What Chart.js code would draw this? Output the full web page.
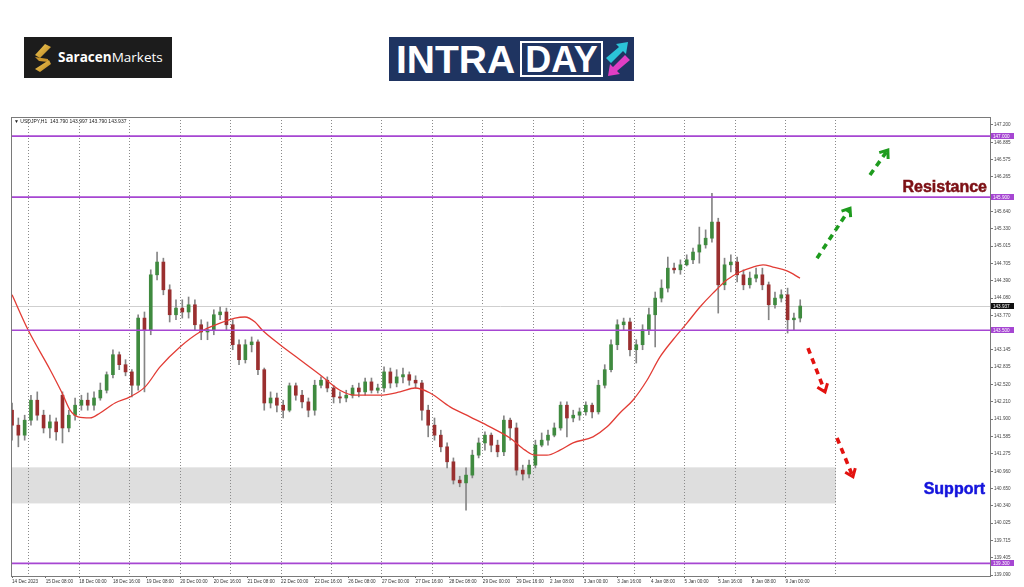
<!DOCTYPE html>
<html>
<head>
<meta charset="utf-8">
<title>USDJPY H1 - Intraday</title>
<script src="https://cdn.jsdelivr.net/npm/chart.js@4.4.0/dist/chart.umd.min.js"></script>
<style>
    html, body { margin: 0; padding: 0; background: #fff; }
    #wrap { position: relative; width: 1024px; height: 587px; overflow: hidden; background: #fff; }
    #fxChart { position: absolute; left: 0; top: 0; }

    /* logos */
    .saracen { position: absolute; left: 24px; top: 37px; width: 148px; height: 41px; background: #1c1c1c; }
    .saracen svg { position: absolute; left: 9px; top: 7px; }
    .saracen .name { position: absolute; left: 34px; top: 11px; color: #fff; font: 13.5px 'Open Sans', 'Liberation Sans', sans-serif; white-space: nowrap; }
    .saracen .name b { font-weight: 700; }
    .intraday { position: absolute; left: 389px; top: 37px; width: 245px; height: 44px; background: #1f3461; }
    .intraday .intra { position: absolute; left: 7px; top: 3px; color: #fff; font: bold 39px 'Liberation Sans', Arial, sans-serif; line-height: 39px; }
    .intraday .day { position: absolute; left: 131px; top: 4px; width: 83px; height: 36px; border: 2px solid #fff; box-sizing: border-box; color: #fff; font: bold 36px 'Liberation Sans', Arial, sans-serif; line-height: 33px; text-align: center; }
    .intraday svg { position: absolute; left: 215px; top: 4px; }

    .tag { position: absolute; font: bold 16px 'Liberation Sans', Arial, sans-serif; white-space: nowrap; line-height: 16px; -webkit-text-stroke: 0.5px currentColor; }
    .resistance { right: 37px; top: 179px; color: #7d1015; }
    .support { right: 39px; top: 481px; color: #1414dc; }
</style>
</head>
<body>
<div id="wrap">
    <canvas id="fxChart" width="1024" height="587"></canvas>

    <div class="saracen">
        <svg width="20" height="28" viewBox="0 0 20 28">
            <defs>
                <linearGradient id="gold" x1="0" y1="0" x2="1" y2="1">
                    <stop offset="0" stop-color="#f7cf5a"/>
                    <stop offset="1" stop-color="#b5801d"/>
                </linearGradient>
            </defs>
            <polygon points="12,0 18,3 7,14 2,11" fill="url(#gold)"/>
            <polygon points="2,13 15,15 15,18 6,17" fill="#c9952c"/>
            <polygon points="16,16 18,20 7,28 2,25" fill="url(#gold)"/>
        </svg>
        <div class="name"><b>Saracen</b>Markets</div>
    </div>

    <div class="intraday">
        <div class="intra">INTRA</div>
        <div class="day">DAY</div>
        <svg width="28" height="36" viewBox="0 0 28 36">
            <polygon points="2,17 15,6 12,3 24,1 22,13 19,10 7,22" fill="#2bc4d8"/>
            <polygon points="26,19 13,30 16,33 4,35 6,23 9,26 21,14" fill="#e03ec4"/>
        </svg>
    </div>

    <div class="tag resistance">Resistance</div>
    <div class="tag support">Support</div>
</div>

<script>
(function () {
    'use strict';

    /* ===== Data ===== */

    // H1 bar index of each 3-hour candle is candle number * 3
    var opens = [
        142.06, 141.79, 141.61, 141.88, 142.24, 141.97, 141.74, 141.85, 142.33, 141.74,
        141.97, 142.15, 142.24, 142.15, 142.28, 142.42, 142.70, 143.06, 142.88, 142.75,
        142.51, 143.72, 143.51, 144.50, 144.73, 144.23, 143.78, 143.90, 143.83, 143.96,
        143.60, 143.47, 143.51, 143.78, 143.83, 143.60, 143.24, 142.97, 143.24, 143.29,
        142.79, 142.19, 142.28, 142.15, 142.06, 142.50, 142.33, 142.21, 142.06, 142.51,
        142.60, 142.46, 142.30, 142.28, 142.33, 142.46, 142.39, 142.57, 142.42, 142.46,
        142.75, 142.55, 142.66, 142.70, 142.60, 142.55, 142.06, 141.79, 141.61, 141.40,
        141.13, 140.80, 140.75, 140.89, 141.25, 141.47, 141.61, 141.43, 141.31, 141.88,
        141.74, 140.98, 140.91, 141.07, 141.43, 141.52, 141.61, 141.74, 142.15, 141.92,
        141.97, 142.03, 142.15, 142.03, 142.51, 142.79, 143.24, 143.60, 143.65, 143.15,
        143.24, 143.51, 143.78, 144.08, 144.26, 144.62, 144.59, 144.68, 144.77, 144.91,
        145.04, 145.16, 145.45, 144.32, 144.68, 144.73, 144.50, 144.32, 144.44, 144.50,
        144.32, 143.96, 144.08, 144.14, 143.69, 143.72
    ];
    var highs = [
        142.19, 141.92, 141.97, 142.33, 142.39, 142.06, 141.97, 141.92, 142.39, 142.06,
        142.28, 142.33, 142.37, 142.39, 142.55, 142.75, 143.15, 143.11, 142.97, 142.79,
        143.78, 143.83, 144.59, 144.91, 144.80, 144.32, 144.05, 144.05, 144.10, 144.05,
        143.69, 143.65, 143.87, 143.92, 143.90, 143.69, 143.33, 143.33, 143.38, 143.33,
        142.82, 142.39, 142.37, 142.24, 142.55, 142.55, 142.42, 142.28, 142.60, 142.66,
        142.66, 142.51, 142.39, 142.42, 142.51, 142.55, 142.64, 142.64, 142.53, 142.84,
        142.82, 142.79, 142.82, 142.75, 142.68, 142.60, 142.15, 141.92, 141.70, 141.47,
        141.20, 140.87, 141.02, 141.34, 141.56, 141.67, 141.65, 141.52, 141.96, 141.92,
        141.83, 141.07, 141.16, 141.52, 141.65, 141.70, 141.83, 142.21, 142.21, 142.06,
        142.10, 142.21, 142.19, 142.60, 142.88, 143.33, 143.69, 143.72, 143.72, 143.33,
        143.60, 143.90, 144.19, 144.41, 144.82, 144.71, 144.77, 144.86, 144.98, 145.36,
        145.31, 145.97, 145.52, 144.80, 144.86, 144.82, 144.59, 144.55, 144.62, 144.62,
        144.37, 144.19, 144.23, 144.26, 143.81, 144.05
    ];
    var lows = [
        141.52, 141.40, 141.52, 141.79, 141.88, 141.65, 141.56, 141.52, 141.47, 141.67,
        141.88, 142.06, 142.06, 142.06, 142.24, 142.37, 142.64, 142.79, 142.68, 142.30,
        142.42, 142.39, 143.42, 144.41, 144.14, 143.65, 143.69, 143.72, 143.72, 143.51,
        143.33, 143.33, 143.42, 143.69, 143.51, 143.15, 142.88, 142.91, 143.11, 142.70,
        142.06, 142.10, 142.03, 141.92, 142.03, 142.24, 142.10, 141.94, 141.97, 142.46,
        142.39, 142.19, 142.19, 142.21, 142.28, 142.30, 142.33, 142.37, 142.37, 142.39,
        142.46, 142.48, 142.55, 142.51, 142.46, 141.88, 141.58, 141.52, 141.31, 141.02,
        140.73, 140.68, 140.26, 140.84, 141.20, 141.34, 141.31, 141.22, 141.24, 141.52,
        140.89, 140.80, 140.84, 141.02, 141.40, 141.43, 141.58, 141.70, 141.58, 141.85,
        141.88, 141.97, 141.92, 141.99, 142.46, 142.75, 143.15, 143.51, 143.04, 142.91,
        143.15, 143.42, 143.20, 144.01, 144.19, 144.53, 144.51, 144.66, 144.70, 144.71,
        144.98, 145.09, 143.81, 144.23, 144.55, 144.37, 144.23, 144.26, 144.37, 144.23,
        143.69, 143.90, 144.01, 143.45, 143.51, 143.65
    ];
    var closes = [
        141.79, 141.61, 141.88, 142.24, 141.97, 141.74, 141.85, 141.67, 141.74, 141.97,
        142.15, 142.24, 142.15, 142.28, 142.42, 142.70, 143.06, 142.88, 142.75, 142.51,
        143.72, 143.51, 144.50, 144.73, 144.23, 143.78, 143.90, 143.83, 143.96, 143.60,
        143.47, 143.51, 143.78, 143.83, 143.60, 143.24, 142.97, 143.24, 143.29, 142.79,
        142.19, 142.28, 142.15, 142.06, 142.50, 142.33, 142.21, 142.06, 142.51, 142.60,
        142.46, 142.30, 142.28, 142.33, 142.46, 142.39, 142.57, 142.42, 142.46, 142.75,
        142.55, 142.66, 142.70, 142.60, 142.55, 142.06, 141.79, 141.61, 141.40, 141.13,
        140.80, 140.75, 140.89, 141.25, 141.47, 141.61, 141.43, 141.31, 141.88, 141.74,
        140.98, 140.91, 141.07, 141.43, 141.52, 141.61, 141.74, 142.15, 141.92, 141.97,
        142.03, 142.15, 142.03, 142.51, 142.79, 143.24, 143.60, 143.65, 143.15, 143.24,
        143.51, 143.78, 144.08, 144.26, 144.62, 144.59, 144.68, 144.77, 144.91, 145.04,
        145.16, 145.45, 144.32, 144.68, 144.73, 144.50, 144.32, 144.44, 144.50, 144.32,
        143.96, 144.08, 144.14, 143.69, 143.72, 143.937
    ];

    // red moving average (H1 bar index / price)
    var maBars = [
        0, 7.6, 18.1, 23.8, 27.6, 31.4, 37.1, 41.9, 49.0, 56.1,
        63.3, 70.4, 79.9, 89.4, 99.0, 106.1, 110.8, 115.6, 118.9, 127.5,
        137.0, 146.5, 156.0, 163.2, 175.1, 184.6, 191.7, 198.9, 208.4, 217.9,
        227.4, 236.9, 244.1, 248.8, 254.5, 260.7, 266.9, 276.4, 283.1, 289.2,
        295.4, 302.1, 308.3, 314.5, 321.1, 327.3, 333.5, 340.2, 346.3, 352.5,
        357.3, 362.0, 368.7, 374.9
    ];
    var maValues = [
        144.14, 143.51, 142.79, 142.37, 142.06, 141.94, 141.92, 142.01, 142.19, 142.30,
        142.48, 142.84, 143.20, 143.47, 143.63, 143.72, 143.74, 143.65, 143.51, 143.24,
        142.97, 142.70, 142.42, 142.33, 142.33, 142.39, 142.46, 142.37, 142.12, 141.94,
        141.76, 141.56, 141.34, 141.25, 141.25, 141.34, 141.47, 141.58, 141.76, 142.01,
        142.24, 142.60, 143.02, 143.33, 143.63, 143.92, 144.17, 144.41, 144.55, 144.64,
        144.68, 144.64, 144.57, 144.44
    ];

    var xLabelBars = [0, 16, 32, 48, 64, 80, 96, 112, 128, 144, 160, 176,
        192, 208, 224, 240, 256, 272, 288, 304, 320, 336, 352, 368];
    var xLabels = ['14 Dec 2023', '15 Dec 08:00', '18 Dec 00:00', '18 Dec 16:00', '19 Dec 08:00',
        '20 Dec 00:00', '20 Dec 16:00', '21 Dec 08:00', '22 Dec 00:00', '22 Dec 16:00',
        '26 Dec 08:00', '27 Dec 00:00', '27 Dec 16:00', '28 Dec 08:00', '29 Dec 00:00',
        '29 Dec 16:00', '2 Jan 08:00', '3 Jan 00:00', '3 Jan 16:00', '4 Jan 08:00',
        '5 Jan 00:00', '5 Jan 16:00', '8 Jan 08:00', '9 Jan 00:00'];
    var dayLineBars = [8, 32, 56, 80, 104, 128, 152, 176, 200, 224, 248, 272, 296, 320, 344, 368, 392];

    var yTickValues = [147.200, 146.885, 146.575, 146.265, 145.640, 145.330, 145.015, 144.705,
        144.390, 144.080, 143.770, 143.145, 142.835, 142.520, 142.210, 141.900, 141.585,
        141.275, 140.960, 140.650, 140.340, 140.025, 139.715, 139.405, 139.090];

    var levels = [147.000, 145.900, 143.500, 139.300];
    var lastPrice = 143.937;
    var supportZone = [140.38, 141.03];
    var supportZoneEndBar = 392;
    var headerText = '\u25BC USDJPY,H1  143.790 143.997 143.790 143.937';

    // dashed forecast arrows: [bar, price] from -> to
    var arrowPaths = [
        { color: '#1e9b1e', from: [383, 144.80], to: [398.7, 145.70] },
        { color: '#1e9b1e', from: [408.2, 146.30], to: [416.7, 146.75] },
        { color: '#e3120f', from: [378.7, 143.18], to: [386.8, 142.39] },
        { color: '#e3120f', from: [392.5, 141.56], to: [400.1, 140.86] }
    ];

    var BULL = '#3f8a3f';
    var BEAR = '#9a2f2f';
    var WICK = '#858585';
    var LEVEL = '#a646d2';
    var SMALL_FONT = "4.6px 'Liberation Sans', Arial, sans-serif";

    /* ===== Datasets ===== */

    var candleBars = closes.map(function (c, i) { return i * 3; });

    var wickData = candleBars.map(function (b, i) { return { x: b, y: [lows[i], highs[i]] }; });
    var bodyData = candleBars.map(function (b, i) { return { x: b, y: [opens[i], closes[i]] }; });
    var maData = maBars.map(function (b, i) { return { x: b, y: maValues[i] }; });

    function bodyColor(ctx) {
        var i = ctx.dataIndex;
        return closes[i] >= opens[i] ? BULL : BEAR;
    }

    /* ===== Drawing helpers ===== */

    function drawArrow(ctx, x1, y1, x2, y2, color) {
        var ang = Math.atan2(y2 - y1, x2 - x1);
        ctx.save();
        ctx.strokeStyle = color;
        ctx.lineWidth = 3.6;
        ctx.setLineDash([6, 5]);
        ctx.beginPath();
        ctx.moveTo(x1, y1);
        ctx.lineTo(x2 - Math.cos(ang) * 2, y2 - Math.sin(ang) * 2);
        ctx.stroke();
        ctx.setLineDash([]);
        ctx.lineWidth = 3;
        var len = 9;
        ctx.beginPath();
        ctx.moveTo(x2 - len * Math.cos(ang - 0.65), y2 - len * Math.sin(ang - 0.65));
        ctx.lineTo(x2, y2);
        ctx.lineTo(x2 - len * Math.cos(ang + 0.65), y2 - len * Math.sin(ang + 0.65));
        ctx.stroke();
        ctx.restore();
    }

    function drawPriceTag(ctx, x, y, text, bg) {
        ctx.save();
        ctx.fillStyle = bg;
        ctx.fillRect(x, Math.round(y) - 3, 23, 6);
        ctx.fillStyle = '#fff';
        ctx.font = SMALL_FONT;
        ctx.textBaseline = 'middle';
        ctx.textAlign = 'left';
        ctx.fillText(text, x + 2, Math.round(y) + 0.5);
        ctx.restore();
    }

    var overlayPlugin = {
        id: 'fxOverlay',
        beforeDraw: function (chart) {
            var ctx = chart.ctx, a = chart.chartArea;
            var xs = chart.scales.x, ys = chart.scales.y;
            var top = ys.getPixelForValue(supportZone[1]);
            var bottom = ys.getPixelForValue(supportZone[0]);
            var right = xs.getPixelForValue(supportZoneEndBar);
            ctx.save();
            ctx.fillStyle = '#dedede';
            ctx.fillRect(a.left, top, right - a.left, bottom - top);
            ctx.restore();
        },
        beforeDatasetsDraw: function (chart) {
            var ctx = chart.ctx, a = chart.chartArea;
            var y = Math.round(chart.scales.y.getPixelForValue(lastPrice)) + 0.5;
            ctx.save();
            ctx.strokeStyle = '#cfcfcf';
            ctx.lineWidth = 1;
            ctx.beginPath();
            ctx.moveTo(a.left, y);
            ctx.lineTo(a.right, y);
            ctx.stroke();
            ctx.restore();
        },
        afterDatasetsDraw: function (chart) {
            var ctx = chart.ctx, a = chart.chartArea, ys = chart.scales.y;
            ctx.save();
            ctx.strokeStyle = LEVEL;
            ctx.lineWidth = 1.6;
            levels.forEach(function (lv) {
                var y = ys.getPixelForValue(lv);
                ctx.beginPath();
                ctx.moveTo(a.left, y);
                ctx.lineTo(a.right, y);
                ctx.stroke();
            });
            ctx.restore();
        },
        afterDraw: function (chart) {
            var ctx = chart.ctx, a = chart.chartArea;
            var xs = chart.scales.x, ys = chart.scales.y;

            // frame
            ctx.save();
            ctx.strokeStyle = '#7a7a7a';
            ctx.lineWidth = 1;
            ctx.strokeRect(Math.round(a.left) + 0.5, Math.round(a.top) + 0.5,
                Math.round(a.right - a.left), Math.round(a.bottom - a.top));
            ctx.restore();

            // header
            ctx.save();
            ctx.fillStyle = '#222';
            ctx.font = "5px 'Liberation Sans', Arial, sans-serif";
            ctx.textBaseline = 'middle';
            ctx.fillText(headerText, a.left + 3, a.top + 5);
            ctx.restore();

            // price tags on the axis
            levels.forEach(function (lv) {
                drawPriceTag(ctx, a.right + 1, ys.getPixelForValue(lv), lv.toFixed(3), LEVEL);
            });
            drawPriceTag(ctx, a.right + 1, ys.getPixelForValue(lastPrice), lastPrice.toFixed(3), '#111');

            // forecast arrows
            arrowPaths.forEach(function (p) {
                drawArrow(ctx,
                    xs.getPixelForValue(p.from[0]), ys.getPixelForValue(p.from[1]),
                    xs.getPixelForValue(p.to[0]), ys.getPixelForValue(p.to[1]),
                    p.color);
            });
        }
    };

    /* ===== Chart ===== */

    var allXTicks = xLabelBars.concat(dayLineBars)
        .filter(function (v, i, arr) { return arr.indexOf(v) === i; })
        .sort(function (p, q) { return p - q; });

    new Chart(document.getElementById('fxChart'), {
        type: 'bar',
        data: {
            datasets: [
                {
                    type: 'line',
                    label: 'MA',
                    data: maData,
                    borderColor: '#e23c35',
                    borderWidth: 1.3,
                    pointRadius: 0,
                    fill: false,
                    cubicInterpolationMode: 'monotone',
                },
                {
                    label: 'Body',
                    data: bodyData,
                    backgroundColor: bodyColor,
                    borderWidth: 0,
                    barThickness: 3,
                    minBarLength: 1,
                    grouped: false,
                },
                {
                    label: 'Wick',
                    data: wickData,
                    backgroundColor: WICK,
                    borderWidth: 0,
                    barThickness: 1,
                    grouped: false,
                },
            ],
        },
        options: {
            responsive: false,
            animation: false,
            devicePixelRatio: 1,
            events: [],
            layout: { padding: { top: 117, left: 11, right: 0, bottom: 0 } },
            plugins: {
                legend: { display: false },
                tooltip: { enabled: false },
            },
            scales: {
                x: {
                    type: 'linear',
                    offset: false,
                    min: -0.5,
                    max: 465.3,
                    afterBuildTicks: function (scale) {
                        scale.ticks = allXTicks.map(function (v) { return { value: v }; });
                    },
                    afterFit: function (scale) { scale.height = 11; },
                    ticks: {
                        autoSkip: false,
                        maxRotation: 0,
                        minRotation: 0,
                        align: 'start',
                        padding: 1,
                        color: '#333',
                        font: { family: "'Liberation Sans Narrow', 'Liberation Sans', sans-serif", size: 4.6 },
                        callback: function (value) {
                            var i = xLabelBars.indexOf(value);
                            return i >= 0 ? xLabels[i] : '';
                        }
                    },
                    grid: {
                        offset: false,
                        tickLength: 2,
                        color: function (ctx) {
                            return ctx.tick && dayLineBars.indexOf(ctx.tick.value) >= 0 ? '#8a8a8a' : 'rgba(0,0,0,0)';
                        },
                        tickColor: function (ctx) {
                            return ctx.tick && xLabelBars.indexOf(ctx.tick.value) >= 0 ? '#666' : 'rgba(0,0,0,0)';
                        },
                    },
                    border: { display: false, dash: [1, 2] },
                },
                y: {
                    type: 'linear',
                    position: 'right',
                    min: 139.072,
                    max: 147.344,
                    afterBuildTicks: function (scale) {
                        scale.ticks = yTickValues.map(function (v) { return { value: v }; });
                    },
                    afterFit: function (scale) { scale.width = 34; },
                    ticks: {
                        autoSkip: false,
                        padding: 1,
                        color: '#444',
                        font: { family: "'Liberation Sans', Arial, sans-serif", size: 4.6 },
                        callback: function (value) { return Number(value).toFixed(3); }
                    },
                    grid: { drawOnChartArea: false, tickLength: 3, color: '#777' },
                    border: { display: false },
                },
            },
        },
        plugins: [overlayPlugin],
    });
})();
</script>
</body>
</html>
